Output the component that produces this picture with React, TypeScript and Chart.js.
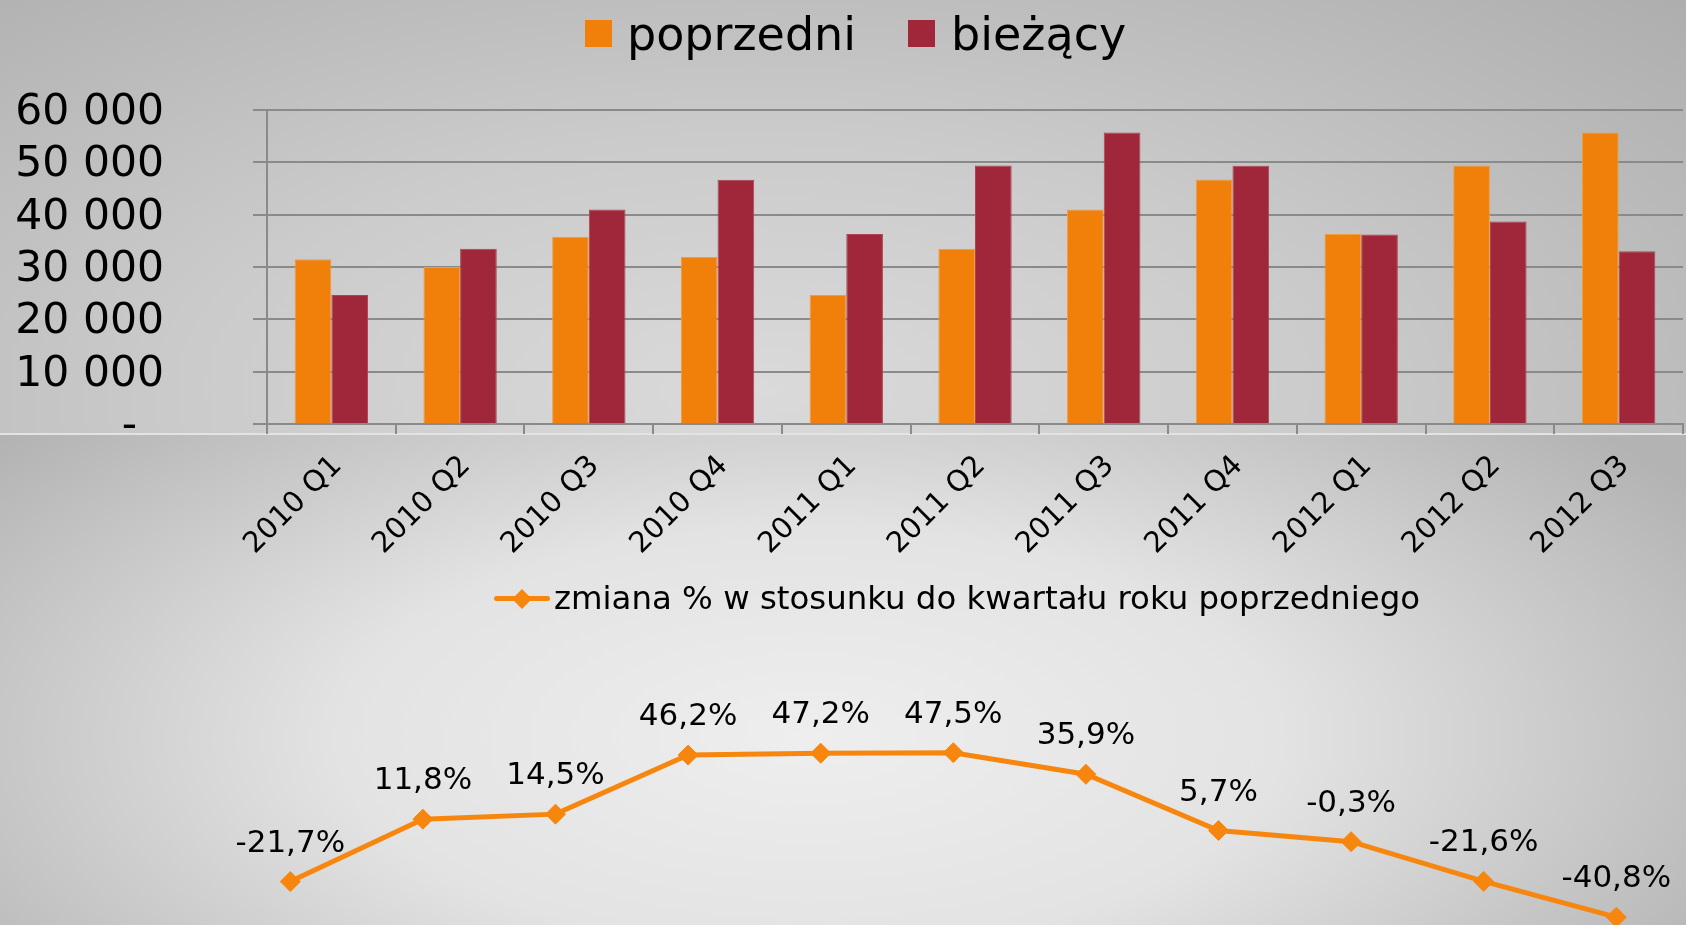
import React, { useEffect, useRef } from "react";
import { Chart, registerables } from "chart.js";

Chart.register(...registerables);

const categories = [
  "2010 Q1", "2010 Q2", "2010 Q3", "2010 Q4",
  "2011 Q1", "2011 Q2", "2011 Q3", "2011 Q4",
  "2012 Q1", "2012 Q2", "2012 Q3",
];
const poprzedni = [31500, 30000, 35800, 31900, 24650, 33500, 41000, 46700, 36300, 49400, 55700];
const biezacy = [24650, 33500, 41000, 46650, 36300, 49400, 55700, 49350, 36200, 38700, 33000];
const zmiana = [-21.7, 11.8, 14.5, 46.2, 47.2, 47.5, 35.9, 5.7, -0.3, -21.6, -40.8];
const yTicks = [0, 10000, 20000, 30000, 40000, 50000, 60000];

const FONT = "'DejaVu Sans', Verdana, sans-serif";
const ORANGE = "#F0800A";
const RED = "#A02739";
const LINE_ORANGE = "#F7860E";
const GRID = "#8a8a8a";

function fmtThousands(v: number): string {
  if (v === 0) return "-\u00a0\u00a0";
  return String(v).replace(/\B(?=(\d{3})+(?!\d))/g, " ");
}

const labelPlugin = {
  id: "pctLabels",
  afterDatasetsDraw(chart: any) {
    const ctx = chart.ctx;
    const meta = chart.getDatasetMeta(0);
    ctx.save();
    ctx.font = `31px ${FONT}`;
    ctx.fillStyle = "#000";
    ctx.textAlign = "center";
    ctx.textBaseline = "middle";
    meta.data.forEach((pt: any, i: number) => {
      const v = zmiana[i];
      const txt = v.toFixed(1).replace(".", ",") + "%";
      ctx.fillText(txt, pt.x, pt.y - 38);
    });
    ctx.restore();
  },
};

export default function App() {
  const barRef = useRef<HTMLCanvasElement>(null);
  const lineRef = useRef<HTMLCanvasElement>(null);

  useEffect(() => {
    document.body.style.margin = "0";
    const bar = new Chart(barRef.current as HTMLCanvasElement, {
      type: "bar",
      data: {
        labels: categories,
        datasets: [
          { label: "poprzedni", data: poprzedni, backgroundColor: ORANGE, borderColor: "#F39B40", borderWidth: 1 },
          { label: "bieżący", data: biezacy, backgroundColor: RED, borderColor: "#B04352", borderWidth: 1 },
        ],
      },
      options: {
        responsive: false,
        animation: false,
        events: [],
        layout: { autoPadding: false, padding: { top: 110, right: 3, left: 0, bottom: 0 } },
        plugins: { legend: { display: false }, tooltip: { enabled: false } },
        datasets: { bar: { barPercentage: 1, categoryPercentage: 0.57 } },
        scales: {
          x: {
            offset: true,
            grid: { display: true, drawOnChartArea: false, drawTicks: true, tickLength: 10, color: GRID, lineWidth: 2, offset: true },
            border: { display: true, color: GRID, width: 2 },
            ticks: {
              autoSkip: false,
              minRotation: 45,
              maxRotation: 45,
              padding: 15,
              labelOffset: 6,
              color: "#000",
              font: { family: FONT, size: 29 },
            },
            afterFit(scale: any) {
              scale.height = 570 - 424;
            },
          },
          y: {
            min: 0,
            max: 60000,
            afterBuildTicks(scale: any) {
              scale.ticks = yTicks.map((v) => ({ value: v }));
            },
            grid: { color: GRID, lineWidth: 2, tickLength: 14, drawTicks: true },
            border: { display: true, color: GRID, width: 2 },
            ticks: {
              autoSkip: false,
              padding: 89,
              labelOffset: 3,
              color: "#000",
              font: { family: FONT, size: 42.5 },
              callback: (v: any) => fmtThousands(Number(v)),
            },
            afterFit(scale: any) {
              scale.width = 267;
              scale.paddingTop = 0;
              scale.paddingBottom = 0;
            },
          },
        },
      },
    });

    const line = new Chart(lineRef.current as HTMLCanvasElement, {
      type: "line",
      data: {
        labels: categories,
        datasets: [
          {
            label: "zmiana % w stosunku do kwartału roku poprzedniego",
            data: zmiana,
            borderColor: LINE_ORANGE,
            backgroundColor: LINE_ORANGE,
            borderWidth: 5,
            pointStyle: "rectRot",
            pointRadius: 10,
            pointBackgroundColor: LINE_ORANGE,
            pointBorderColor: LINE_ORANGE,
            pointBorderWidth: 1,
            tension: 0,
            clip: false as any,
          },
        ],
      },
      options: {
        responsive: false,
        animation: false,
        events: [],
        layout: { autoPadding: false, padding: { top: 314, right: 3.4, left: 224, bottom: 0 } },
        plugins: { legend: { display: false }, tooltip: { enabled: false } },
        scales: {
          x: { type: "category", offset: true, display: false },
          y: { min: -45, max: 50, display: false },
        },
      },
      plugins: [labelPlugin],
    });

    return () => {
      bar.destroy();
      line.destroy();
    };
  }, []);

  return (
    <div style={{ position: "relative", width: 1686, height: 925, overflow: "hidden", fontFamily: FONT }}>
      <div
        style={{
          position: "absolute", left: 0, top: 0, width: 1686, height: 434,
          background: "radial-gradient(ellipse 75% 130% at 45% 90%, #dadada 0%, #cbcbcb 45%, #aeaeae 100%)",
        }}
      />
      <div
        style={{
          position: "absolute", left: 0, top: 434, width: 1686, height: 491,
          background: "radial-gradient(ellipse 62% 95% at 48% 62%, #eeeeee 0%, #e3e3e3 45%, #b3b3b3 100%)",
        }}
      />
      <div style={{ position: "absolute", left: 0, top: 432.5, width: 1686, height: 2, background: "#e3e3e3" }} />

      <canvas ref={lineRef} width={1686} height={491} style={{ position: "absolute", left: 0, top: 434, width: 1686, height: 491 }} />
      <canvas ref={barRef} width={1686} height={570} style={{ position: "absolute", left: 0, top: 0, width: 1686, height: 570 }} />

      <div style={{ position: "absolute", left: 585, top: 11, display: "flex", alignItems: "flex-start", fontSize: 46, lineHeight: "46px", color: "#000", whiteSpace: "nowrap" }}>
        <span style={{ display: "inline-block", width: 27, height: 27, marginTop: 9, background: ORANGE }} />
        <span style={{ marginLeft: 15 }}>poprzedni</span>
        <span style={{ display: "inline-block", width: 27, height: 27, marginTop: 9, marginLeft: 52, background: RED }} />
        <span style={{ marginLeft: 16 }}>bieżący</span>
      </div>

      <div style={{ position: "absolute", left: 494, top: 582, display: "flex", alignItems: "flex-start", fontSize: 32.4, lineHeight: "33px", color: "#000", whiteSpace: "nowrap" }}>
        <span style={{ position: "relative", display: "inline-block", width: 56, height: 33 }}>
          <span style={{ position: "absolute", left: 0, top: 14, width: 56, height: 5, borderRadius: 3, background: LINE_ORANGE }} />
          <span style={{ position: "absolute", left: 21, top: 9.5, width: 14, height: 14, background: LINE_ORANGE, transform: "rotate(45deg)" }} />
        </span>
        <span style={{ marginLeft: 4 }}>zmiana % w stosunku do kwartału roku poprzedniego</span>
      </div>
    </div>
  );
}
